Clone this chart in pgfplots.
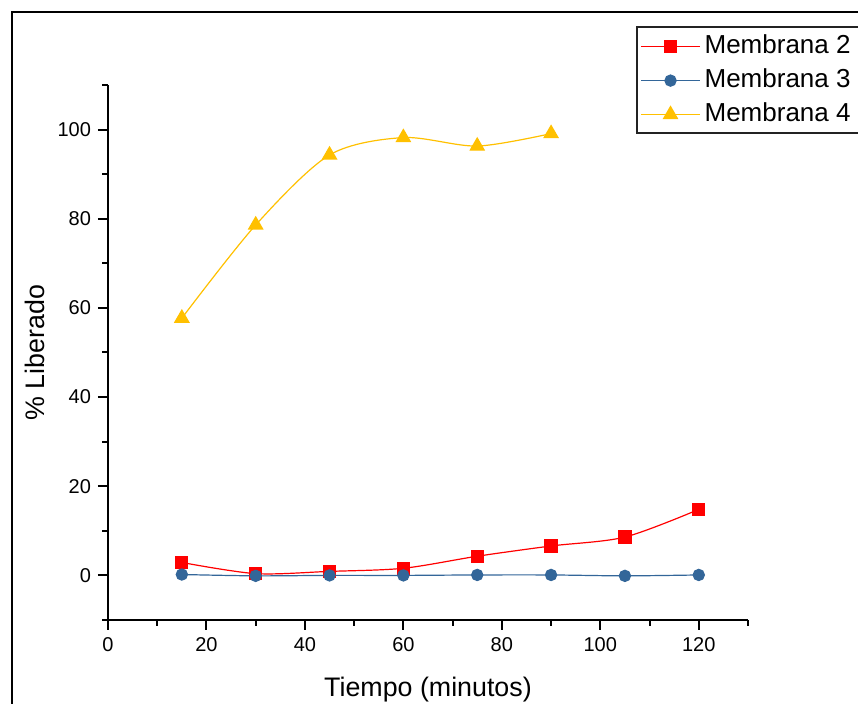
\documentclass[border=0pt]{standalone}
\usepackage{fontspec}
\setmainfont{Liberation Sans}
\usepackage{pgfplots}
\pgfplotsset{compat=1.18}
\definecolor{mred}{RGB}{255,0,0}
\definecolor{mblue}{RGB}{51,102,153}
\definecolor{myellow}{RGB}{255,192,0}
\definecolor{frm}{RGB}{35,35,35}

\begin{document}
\begin{tikzpicture}
% page = 858 x 704 px, 1 px = 0.5 pt
\useasboundingbox (0pt,0pt) rectangle (429pt,352pt);
\draw[line width=1pt] (6pt,-10pt) -- (6pt,346pt) -- (440pt,346pt);
% legend frame
\draw[frm,line width=0.6pt] (318.5pt,285.5pt) rectangle (440pt,338.5pt);
\begin{axis}[
  at={(54pt,42pt)},anchor=south west,
  scale only axis,width=320pt,height=267.5pt,
  xmin=0,xmax=130,ymin=-10,ymax=110,
  axis lines*=left,
  axis line style={line width=1pt},
  xtick={0,20,...,120},ytick={0,20,...,100},
  minor xtick={10,30,...,130},minor ytick={-10,10,...,110},
  tick align=outside,
  major tick length=5pt,minor tick length=3pt,
  every tick/.style={black,line width=1pt},
  tick label style={font=\fontsize{10}{12}\selectfont},
  /pgf/number format/assume math mode=true,
  xlabel={Tiempo (minutos)},ylabel={\% Liberado},
  label style={font=\fontsize{13.4}{16}\selectfont},
  xlabel style={at={(axis description cs:0.5,-0.131)},anchor=center},
  ylabel style={at={(axis description cs:-0.114,0.5)},anchor=center},
  clip=false,
  legend style={at={(0.8266,1.108)},anchor=north west,
    font=\fontsize{13}{15}\selectfont,draw=none,fill=none,text=black,
    inner sep=1.5pt,row sep=1pt,
    nodes={inner sep=2pt,text height=9.5pt,text depth=2.5pt}},
  legend cell align=left,
  legend image code/.code={
    \draw[mark repeat=2,mark phase=2] plot coordinates {(0pt,0pt) (14.75pt,0pt) (29.5pt,0pt)};},
]
\addplot[mred,line width=0.6pt,smooth,mark=square*,mark size=3pt,mark options={solid}] coordinates {
  (15,2.9) (30,0.4) (45,0.9) (60,1.6) (75,4.3) (90,6.6) (105,8.6) (120,14.8)};
\addlegendentry{Membrana 2}
\addplot[mblue,line width=0.6pt,smooth,mark=*,mark size=2.8pt] coordinates {
  (15,0.2) (30,-0.1) (45,0.0) (60,0.0) (75,0.1) (90,0.1) (105,-0.1) (120,0.1)};
\addlegendentry{Membrana 3}
\addplot[myellow,line width=0.6pt,smooth,mark=triangle*,mark size=4pt] coordinates {
  (15,57.7) (30,78.6) (45,94.3) (60,98.2) (75,96.3) (90,99.1)};
\addlegendentry{Membrana 4}
\end{axis}
\end{tikzpicture}
\end{document}
